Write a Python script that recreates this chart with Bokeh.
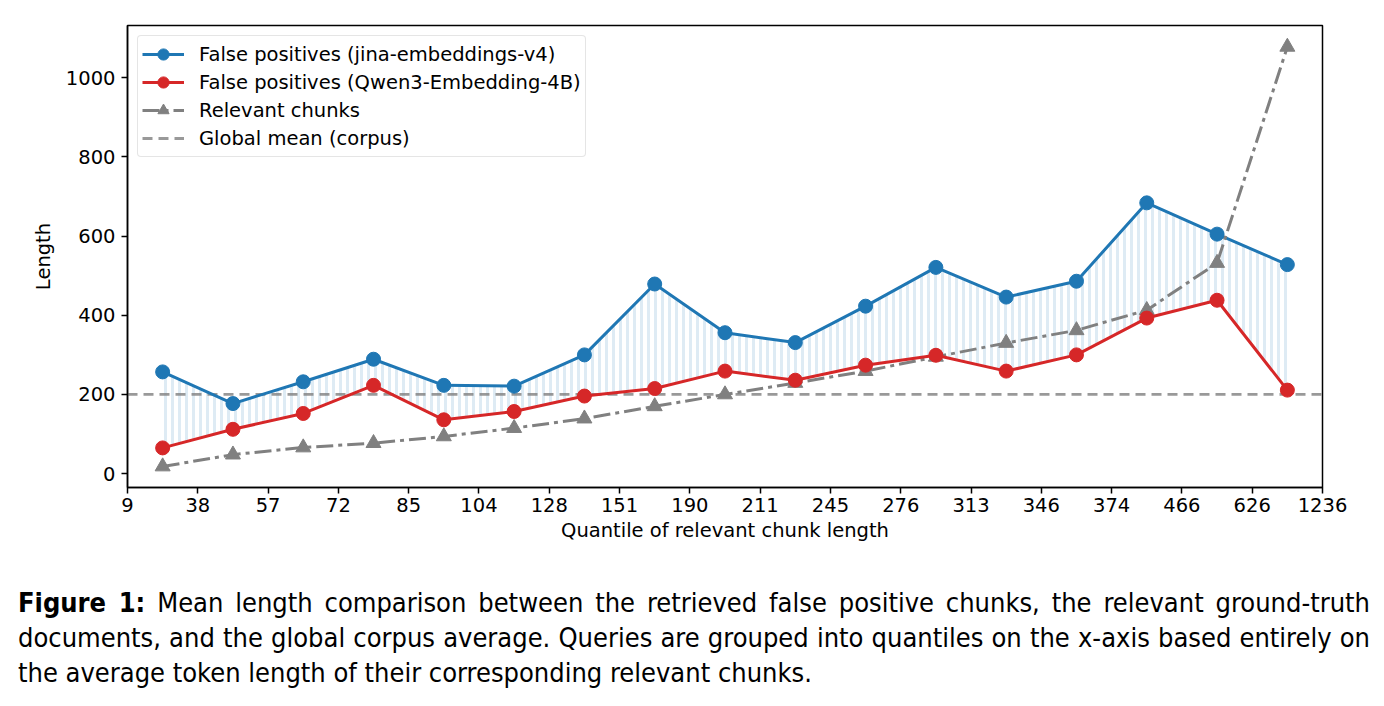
from bokeh.plotting import figure
from bokeh.models import Range1d, FixedTicker, Legend, LegendItem, Div
from bokeh.layouts import column
from bokeh.embed import file_html
from bokeh.resources import INLINE

# ---- data ----
edges = ["9", "38", "57", "72", "85", "104", "128", "151", "190", "211",
         "245", "276", "313", "346", "374", "466", "626", "1236"]
jina = [257, 177, 232, 289, 223, 221, 300, 479, 356, 331, 423, 521, 446, 486, 684, 605, 528]
qwen = [65, 112, 152, 223, 136, 157, 196, 215, 259, 236, 274, 299, 259, 300, 393, 438, 211]
relevant = [18, 48, 66, 77, 94, 115, 139, 170, 200, 229, 259, 295, 330, 362, 413, 532, 1078]
global_mean = 200
y_ticks = [0, 200, 400, 600, 800, 1000]

n_edges = len(edges)
xs = [i + 0.5 for i in range(len(jina))]

FONT = "DejaVu Sans"
FS = "19.5px"
BLUE = "#1f77b4"
RED = "#d62728"
GRAY = "#808080"

p = figure(width=1384, height=555, output_backend="svg", toolbar_location=None,
           x_range=Range1d(0, n_edges - 1), y_range=Range1d(-35, 1132),
           min_border_left=127, min_border_right=62, min_border_top=25, min_border_bottom=68)
p.background_fill_color = "white"
p.border_fill_color = "white"
p.outline_line_color = "black"
p.outline_line_width = 1.5
p.xgrid.visible = False
p.ygrid.visible = False

# hatched area between the two false-positive curves
p.varea(x=xs, y1=qwen, y2=jina, fill_alpha=0, hatch_pattern="vertical_line",
        hatch_color=BLUE, hatch_alpha=0.15, hatch_weight=3, hatch_scale=7)

# global mean
r_mean = p.line(x=[0, n_edges - 1], y=[global_mean, global_mean], line_color=GRAY,
                line_alpha=0.8, line_width=2.8, line_dash="10 6")

# jina
r_jl = p.line(xs, jina, line_color=BLUE, line_width=3)
r_js = p.scatter(xs, jina, marker="circle", size=14, fill_color=BLUE, line_color=BLUE)

# relevant
r_rl = p.line(xs, relevant, line_color=GRAY, line_width=3, line_dash="17 5 4 5")
r_rs = p.scatter(xs, relevant, marker="triangle", size=15, fill_color=GRAY, line_color=GRAY)

# qwen
r_ql = p.line(xs, qwen, line_color=RED, line_width=3)
r_qs = p.scatter(xs, qwen, marker="circle", size=14, fill_color=RED, line_color=RED)

# axes
p.xaxis.ticker = FixedTicker(ticks=list(range(n_edges)))
p.xaxis.major_label_overrides = {i: lab for i, lab in enumerate(edges)}
p.yaxis.ticker = FixedTicker(ticks=y_ticks)
p.xaxis.axis_label = "Quantile of relevant chunk length"
p.yaxis.axis_label = "Length"
for ax in (p.xaxis, p.yaxis):
    ax.axis_line_color = "black"
    ax.axis_line_width = 1.5
    ax.major_tick_line_color = "black"
    ax.major_tick_line_width = 1.5
    ax.major_tick_out = 6
    ax.major_tick_in = 0
    ax.minor_tick_line_color = None
    ax.major_label_text_font = FONT
    ax.major_label_text_font_size = FS
    ax.major_label_text_color = "black"
    ax.axis_label_text_font = FONT
    ax.axis_label_text_font_size = FS
    ax.axis_label_text_font_style = "normal"
    ax.axis_label_text_color = "black"
p.xaxis.major_label_standoff = 4
p.xaxis.axis_label_standoff = 4
p.yaxis.major_label_standoff = 6
p.yaxis.axis_label_standoff = 8

legend = Legend(items=[
    LegendItem(label="False positives (jina-embeddings-v4)", renderers=[r_jl, r_js]),
    LegendItem(label="False positives (Qwen3-Embedding-4B)", renderers=[r_ql, r_qs]),
    LegendItem(label="Relevant chunks", renderers=[r_rl, r_rs]),
    LegendItem(label="Global mean (corpus)", renderers=[r_mean]),
], location="top_left")
legend.label_text_font = FONT
legend.label_text_font_size = FS
legend.label_text_color = "black"
legend.glyph_width = 42
legend.glyph_height = 28
legend.label_height = 28
legend.label_standoff = 15
legend.spacing = 0
legend.padding = 4
legend.margin = 10
legend.border_line_color = "#cccccc"
legend.border_line_width = 1.5
legend.border_radius = 4
legend.background_fill_alpha = 0.8
p.add_layout(legend)

caption = Div(
    text=(
        '<div style="font-family:\'Liberation Sans Narrow\',\'DejaVu Sans Condensed\',\'Roboto Condensed\',sans-serif;'
        'font-size:27px;line-height:35px;color:black;width:1352px;">'
        '<div style="text-align:justify;text-align-last:justify;white-space:nowrap;">'
        '<b>Figure 1:</b> Mean length comparison between the retrieved false positive chunks, the relevant ground-truth</div>'
        '<div style="text-align:justify;text-align-last:justify;white-space:nowrap;">'
        'documents, and the global corpus average. Queries are grouped into quantiles on the x-axis based entirely on</div>'
        '<div style="white-space:nowrap;">the average token length of their corresponding relevant chunks.</div>'
        '</div>'
    ),
    width=1352, margin=(30, 0, 0, 18),
)

layout = column(p, caption, spacing=0)
open("out.html", "w").write(file_html(layout, INLINE))
